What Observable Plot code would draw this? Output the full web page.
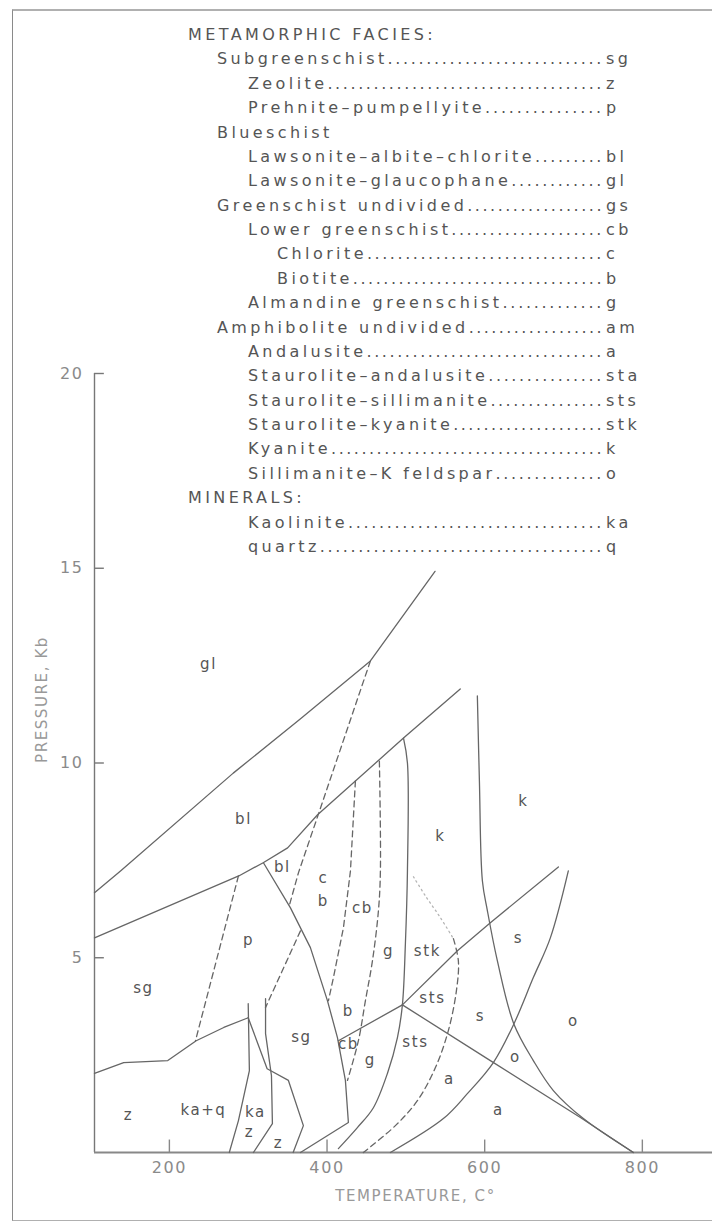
<!DOCTYPE html>
<html>
<head>
<meta charset="utf-8">
<script src="https://cdn.jsdelivr.net/npm/d3@7"></script>
<script src="https://cdn.jsdelivr.net/npm/@observablehq/plot@0.6"></script>
<style>
html,body{margin:0;padding:0;background:#fff;}
#wrap{position:relative;width:712px;height:1222px;overflow:hidden;background:#fff;}
#chart{position:absolute;left:0;top:0;}
#chart svg text{letter-spacing:1.6px;}
#frame{position:absolute;left:12px;top:9px;width:740px;height:1209px;border-left:1.5px solid #8a8a8a;border-top:2px solid #b0b0b0;border-bottom:1.5px solid #b0b0b0;pointer-events:none;}
#legend{position:absolute;left:0;top:0;width:712px;height:600px;font-family:"DejaVu Sans",sans-serif;font-size:16px;color:#555;letter-spacing:3.4px;pointer-events:none;}
.row{position:absolute;white-space:nowrap;height:20px;line-height:20px;}
.dots{letter-spacing:2.6px;}
.code{position:absolute;white-space:nowrap;height:20px;line-height:20px;}
</style>
</head>
<body>
<div id="wrap">
  <div id="chart"></div>
  <div id="frame"></div>
  <div id="legend"></div>
</div>
<script>
// ---------- legend ----------
const legendNames = [
  "METAMORPHIC FACIES:",
  "Subgreenschist",
  "Zeolite",
  "Prehnite–pumpellyite",
  "Blueschist",
  "Lawsonite–albite–chlorite",
  "Lawsonite–glaucophane",
  "Greenschist undivided",
  "Lower greenschist",
  "Chlorite",
  "Biotite",
  "Almandine greenschist",
  "Amphibolite undivided",
  "Andalusite",
  "Staurolite–andalusite",
  "Staurolite–sillimanite",
  "Staurolite–kyanite",
  "Kyanite",
  "Sillimanite–K feldspar",
  "MINERALS:",
  "Kaolinite",
  "quartz"
];
const legendCodes = ["", "sg", "z", "p", "", "bl", "gl", "gs", "cb", "c", "b", "g", "am", "a", "sta", "sts", "stk", "k", "o", "", "ka", "q"];
const legendLevels = [0, 1, 2, 2, 1, 2, 2, 1, 2, 3, 3, 2, 1, 2, 2, 2, 2, 2, 2, 0, 2, 2];

// ---------- axes ----------
const xTicks = [200, 400, 600, 800];
const yTicks = [5, 10, 15, 20];

// ---------- boundaries (temperature °C, pressure kb) ----------
const glBl = [[105,6.67],[138,7.23],[281,9.74],[366,11.13],[455,12.62],[537,14.92]];
const blGs = [[105,5.51],[288,7.10],[319,7.44],[350,7.82],[388,8.67],[497,10.64],[569,11.90]];
const sgZ = [[105,2.03],[142,2.31],[198,2.36],[234,2.87],[269,3.21],[300,3.46]];
const kaqKa = [[300,3.82],[301.5,2.10],[287.6,0.82],[276,0]];
const zSg = [[300,3.46],[324,2.15],[351,1.85],[370,0.69],[357,0]];
const kaZ = [[322,3.95],[322,3.05],[329.5,1.97],[330.7,0.74],[306.6,0]];
const sgGs = [[319.3,7.44],[353.6,6.28],[378.9,5.26],[400.5,3.90],[413.2,2.95],[423.3,1.85],[427.1,0.77],[366.3,0]];
const garnet = [[497,10.64],[502,10.0],[502,7.23],[499.4,5.36],[495.6,3.79],[489.3,2.95],[476.6,2.03],[458.8,1.15],[438.5,0.64],[414.4,0.10]];
const bCb = [[495.6,3.79],[414.4,2.87]];
const stkSts = [[495.6,3.79],[565.4,5.18],[607.2,5.90],[693.5,7.33]];
const stsA = [[495.6,3.79],[607.2,2.36],[721.4,0.90],[788.6,0]];
const kySil = [[590.7,11.72],[593.3,9.54],[597.1,6.97],[603.4,6.21],[616.1,4.92],[637,3.30],[661.7,2.36],[687.1,1.59],[725.2,0.87],[788.6,0]];
const andSil = [[706.1,7.23],[683.3,5.51],[661.7,4.49],[637,3.30],[611,2.31],[578,1.51],[547.6,0.87],[480.4,0]];

const dashA = [[455,12.62],[389.1,8.69],[363.7,7.18],[352,6.33]];
const dashB = [[366.3,5.69],[321.9,3.72]];
const dashC = [[287.6,7.10],[233.1,2.87]];
const dashD = [[436,9.54],[429.7,7.23],[420.8,5.77],[408.1,4.49],[401.8,3.90]];
const dashE = [[466.4,10.05],[467.7,7.23],[465.2,6.21],[457.6,4.92],[448.7,3.90],[439.8,2.87],[425.9,1.85]];
const dashF = [[560.3,5.49],[566.6,4.92],[564.1,4.15],[553.9,3.13],[537.5,2.18],[514.6,1.33],[486.7,0.69],[446.1,0]];
const dotF = [[509.6,7.08],[524.8,6.59],[543.8,6.03],[560.3,5.49]];

// ---------- field labels ----------
const fieldText = ["gl","bl","bl","c","b","cb","k","k","p","sg","g","stk","s","sts","b","s","o","sg","cb","sts","g","o","a","z","ka+q","ka","z","z","a"];
const fieldT = [249.6,294,343.4,395.4,395.4,444.9,543.8,649.1,300.3,167.1,477.9,527.3,642.7,533.7,427.1,594.5,712.5,367.5,427.1,512.1,455,638.9,555.2,148.1,243.2,309.2,301.6,338.4,617.4];
const fieldP = [12.54,8.56,7.33,7.03,6.46,6.28,8.13,9.03,5.44,4.21,5.18,5.18,5.51,3.95,3.64,3.51,3.38,2.95,2.79,2.82,2.36,2.44,1.87,0.95,1.08,1.03,0.51,0.23,1.08];

// ---------- build ----------
const toRows = (arr, id) => arr.map(([T, P]) => ({T, P, id}));
const straight = [].concat(
  toRows(glBl,"glBl"), toRows(blGs,"blGs"), toRows(sgZ,"sgZ"), toRows(kaqKa,"kaqKa"),
  toRows(zSg,"zSg"), toRows(kaZ,"kaZ"), toRows(sgGs,"sgGs"), toRows(bCb,"bCb"), toRows(stkSts,"stkSts"), toRows(stsA,"stsA")
);
const smooth = [].concat(toRows(garnet,"garnet"), toRows(kySil,"kySil"), toRows(andSil,"andSil"));
const dashedStraight = [].concat(toRows(dashA,"A"), toRows(dashB,"B"), toRows(dashC,"C"), toRows(dashD,"D"));
const dashedSmooth = [].concat(toRows(dashE,"E"), toRows(dashF,"F"));
const dotted = toRows(dotF, "dotF");
const fields = fieldText.map((t, i) => ({t, T: fieldT[i], P: fieldP[i]}));

const lineColor = "#666";
const xMin = 105, xMax = 889;

const plot = Plot.plot({
  width: 712,
  height: 1222,
  marginLeft: 94,
  marginRight: 0,
  marginTop: 373,
  marginBottom: 70,
  x: {domain: [xMin, xMax]},
  y: {domain: [0, 20]},
  style: {fontFamily: "DejaVu Sans, sans-serif", fontSize: "15px", background: "transparent", color: "#555"},
  marks: [
    Plot.ruleX([xMin], {y1: 0, y2: 20, stroke: "#777", strokeWidth: 1.4}),
    Plot.ruleY([0], {stroke: "#888", strokeWidth: 2}),
    Plot.ruleY(yTicks, {x1: xMin, x2: xMin + 12.5, stroke: "#777", strokeWidth: 1.4}),
    Plot.ruleX(xTicks, {y1: 0, y2: 0.32, stroke: "#888", strokeWidth: 1.4}),
    Plot.axisY({ticks: yTicks, tickSize: 0, tickPadding: 11, label: null, fill: "#8a8a8a", fontSize: 16}),
    Plot.axisX({ticks: xTicks, tickSize: 0, tickPadding: 9, label: null, fill: "#8a8a8a", fontSize: 16}),
    Plot.line(straight, {x: "T", y: "P", z: "id", stroke: lineColor, strokeWidth: 1.3}),
    Plot.line(smooth, {x: "T", y: "P", z: "id", stroke: lineColor, strokeWidth: 1.3, curve: "catmull-rom"}),
    Plot.line(dashedStraight, {x: "T", y: "P", z: "id", stroke: lineColor, strokeWidth: 1.3, strokeDasharray: "6,4"}),
    Plot.line(dashedSmooth, {x: "T", y: "P", z: "id", stroke: lineColor, strokeWidth: 1.3, strokeDasharray: "6,4", curve: "catmull-rom"}),
    Plot.line(dotted, {x: "T", y: "P", z: "id", stroke: "#b5b5b5", strokeWidth: 1.3, strokeDasharray: "1.5,3.5", curve: "catmull-rom"}),
    Plot.text(fields, {x: "T", y: "P", text: "t", fill: "#555", fontSize: 15}),
    Plot.text(["TEMPERATURE, C°"], {frameAnchor: "bottom", text: d => d, dx: 12, dy: 48, fill: "#999", fontSize: 15}),
    Plot.text(["PRESSURE, Kb"], {frameAnchor: "left", text: d => d, dx: -52, rotate: -90, fill: "#999", fontSize: 15})
  ]
});
document.getElementById("chart").appendChild(plot);

// legend rows: name + dot leader stretched to end just before the code column
const levelX = [188, 217, 248, 277];
const codeX = 606, leaderEnd = 604;
const baseSpacing = 2.6;
const legendEl = document.getElementById("legend");
const probe = document.createElement("span");
probe.className = "dots";
probe.style.position = "absolute";
probe.style.visibility = "hidden";
probe.textContent = ".".repeat(20);
legendEl.appendChild(probe);
const dotW = probe.getBoundingClientRect().width / 20;
legendEl.removeChild(probe);
const glyphW = dotW - baseSpacing;

legendNames.forEach((name, i) => {
  const cy = 35 + i * 24.38;
  const left = levelX[legendLevels[i]];
  const row = document.createElement("div");
  row.className = "row";
  row.style.left = left + "px";
  row.style.top = (cy - 10) + "px";
  const n = document.createElement("span");
  n.textContent = name;
  row.appendChild(n);
  legendEl.appendChild(row);
  if (legendCodes[i]) {
    const nameW = n.getBoundingClientRect().width;
    const avail = leaderEnd - left - nameW;
    const count = Math.max(1, Math.round(avail / dotW));
    const d = document.createElement("span");
    d.className = "dots";
    d.style.letterSpacing = Math.max(0.5, avail / count - glyphW) + "px";
    d.textContent = ".".repeat(count);
    row.appendChild(d);
    const c = document.createElement("div");
    c.className = "code";
    c.textContent = legendCodes[i];
    c.style.left = codeX + "px";
    c.style.top = (cy - 10) + "px";
    legendEl.appendChild(c);
  }
});
</script>
</body>
</html>
